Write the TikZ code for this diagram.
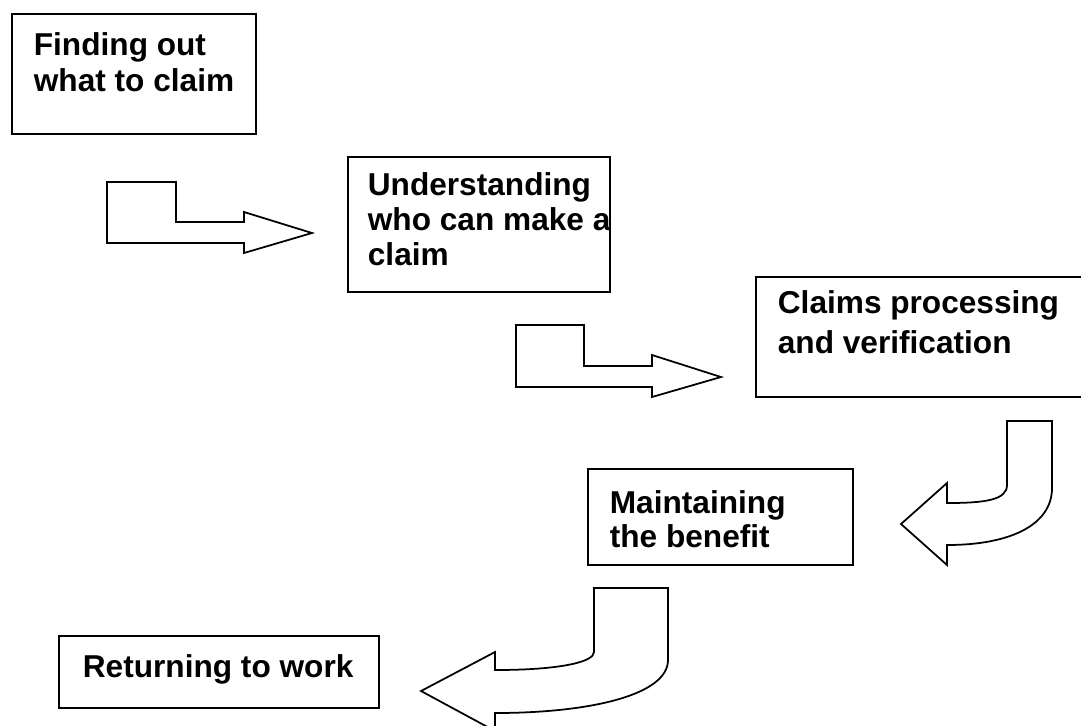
\documentclass[tikz,border=0pt]{standalone}
\usepackage{fontspec}
\setmainfont{Liberation Sans}
\usepackage{tikz}

\begin{document}
\begin{tikzpicture}[x=0.02cm, y=-0.02cm, line width=1pt,
    stagetext/.style={anchor=base west, inner sep=0pt, align=left,
        font=\bfseries\fontsize{18}{#1}\selectfont},
    blockarrow/.style={draw, fill=white, line join=miter}]

\useasboundingbox (0,0) rectangle (1081,725);
\clip (0,0) rectangle (1081,725);

% boxes
\draw (12,14)  rectangle (256,134);
\draw (348,157) rectangle (610,292);
\draw (756,277) rectangle (1095,397);
\draw (588,469) rectangle (853,565);
\draw (59,636)  rectangle (379,708);

% text sits on the baseline of its last line
\node [stagetext=20.4] (find)     at (33,91)   {Finding out\\what to claim};
\node [stagetext=19.8] (who)      at (367,265) {Understanding\\who can make a\\claim};
\node [stagetext=22.7] (process)  at (777,353) {Claims processing\\and verification};
\node [stagetext=19.3] (maintain) at (609,547) {Maintaining\\the benefit};
\node [stagetext=20]   (work)     at (82,677)  {Returning to work};

% bent arrows
\draw [blockarrow] (107,182) -- (176,182) -- (176,222) -- (244,222) -- (244,212)
    -- (312,233) -- (244,253) -- (244,243) -- (107,243) -- cycle;
\draw [blockarrow] (516,325) -- (584,325) -- (584,366) -- (652,366) -- (652,355)
    -- (721,377) -- (652,397) -- (652,387) -- (516,387) -- cycle;

% curved arrows
\draw [blockarrow] (1007,421) -- (1052,421) -- (1052,488)
    .. controls (1052,525) and (1010,545) .. (947,545) -- (947,565) -- (901,524)
    -- (947,483) -- (947,503) .. controls (985,503) and (1007,500) .. (1007,485) -- cycle;
\draw [blockarrow] (594,588) -- (668,588) -- (668,660)
    .. controls (668,695) and (590,713) .. (495,713) -- (495,731) -- (421,691)
    -- (495,652) -- (495,670) .. controls (560,670) and (594,662) .. (594,652) -- cycle;

\end{tikzpicture}
\end{document}
